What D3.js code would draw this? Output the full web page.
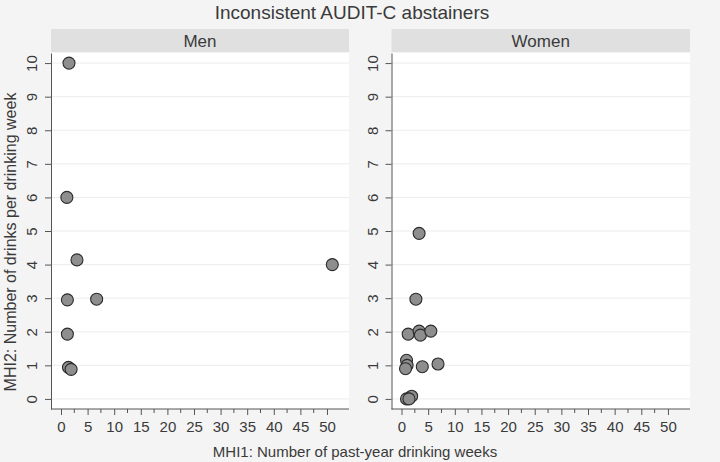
<!DOCTYPE html>
<html><head><meta charset="utf-8">
<script src="https://cdn.jsdelivr.net/npm/d3@7"></script>
<style>
html,body{margin:0;padding:0;background:#f4f4f4;}
svg{display:block;font-family:"Liberation Sans",Arial,sans-serif;}
</style></head>
<body>
<script>
const title = "Inconsistent AUDIT-C abstainers";
const panels = ["Men", "Women"];
const menX = [1.5, 1.1, 3.0, 1.2, 6.7, 1.2, 1.4, 1.9, 51];
const menY = [10, 6, 4.14, 2.95, 2.97, 1.93, 0.94, 0.88, 4.0];
const womenX = [3.3, 2.7, 1.25, 3.3, 3.55, 5.5, 0.94, 1.05, 0.75, 3.9, 6.85, 1.9, 0.94, 1.4];
const womenY = [4.93, 2.97, 1.93, 2.02, 1.9, 2.02, 1.15, 1.0, 0.9, 0.96, 1.04, 0.08, 0.0, 0.0];
const xTicks = [0, 5, 10, 15, 20, 25, 30, 35, 40, 45, 50];
const xMinorTicks = [2.5, 7.5, 12.5, 17.5, 22.5, 27.5, 32.5, 37.5, 42.5, 47.5];
const yTicks = [0, 1, 2, 3, 4, 5, 6, 7, 8, 9, 10];
const xTitle = "MHI1: Number of past-year drinking weeks";
const yTitle = "MHI2: Number of drinks per drinking week";

const W = 720, H = 462;
const svg = d3.select("body").append("svg").attr("width", W).attr("height", H);
svg.append("rect").attr("width", W).attr("height", H).attr("fill", "#f4f4f4");

const textCol = "#3a3a3a";
const plotTop = 53, plotBottom = 409, stripTop = 29;
const panelDefs = [
  {name: panels[0], x0: 51, x1: 349, xs: menX, ys: menY},
  {name: panels[1], x0: 391.5, x1: 690, xs: womenX, ys: womenY}
];
const y = d3.scaleLinear().domain([-0.3, 10.3]).range([plotBottom, plotTop]);

svg.append("text").attr("x", 352).attr("y", 19).attr("text-anchor", "middle")
  .attr("font-size", 19).attr("fill", textCol).text(title);

panelDefs.forEach(p => {
  const x = d3.scaleLinear().domain([-1.88, 54.14]).range([p.x0, p.x1]);
  const g = svg.append("g");
  g.append("rect").attr("x", p.x0).attr("y", stripTop).attr("width", p.x1 - p.x0)
    .attr("height", plotTop - stripTop - 1).attr("fill", "#e0e0e0");
  g.append("text").attr("x", (p.x0 + p.x1) / 2).attr("y", 46.5).attr("text-anchor", "middle")
    .attr("font-size", 17).attr("fill", textCol).text(p.name);
  g.append("rect").attr("x", p.x0).attr("y", plotTop).attr("width", p.x1 - p.x0)
    .attr("height", plotBottom - plotTop).attr("fill", "#ffffff");
  g.selectAll(".grid").data(yTicks).enter().append("line")
    .attr("x1", p.x0).attr("x2", p.x1).attr("y1", d => y(d)).attr("y2", d => y(d))
    .attr("stroke", "#ececec").attr("stroke-width", 1);
  const ya = g.append("g").attr("transform", `translate(${p.x0},0)`)
    .call(d3.axisLeft(y).tickValues(yTicks).tickSize(6).tickPadding(4).tickSizeOuter(0));
  ya.select(".domain").attr("stroke", "#555");
  ya.selectAll(".tick line").attr("stroke", "#555");
  ya.selectAll(".tick text").attr("font-size", 15).attr("fill", textCol)
    .attr("font-family", "Liberation Sans, Arial, sans-serif")
    .attr("text-anchor", "middle").attr("x", null).attr("y", null).attr("dy", "0")
    .attr("transform", "translate(-14,0) rotate(-90)");
  const xa = g.append("g").attr("transform", `translate(0,${plotBottom})`)
    .call(d3.axisBottom(x).tickValues(xTicks).tickSize(6).tickPadding(6).tickSizeOuter(0));
  xa.select(".domain").attr("stroke", "#555").attr("d", `M${p.x0},0H${p.x1}`);
  xa.selectAll(".tick line").attr("stroke", "#555");
  xa.selectAll(".tick text").attr("font-size", 15).attr("fill", textCol)
    .attr("font-family", "Liberation Sans, Arial, sans-serif");
  g.selectAll(".minor").data(xMinorTicks).enter().append("line")
    .attr("x1", d => x(d)).attr("x2", d => x(d)).attr("y1", plotBottom).attr("y2", plotBottom + 4)
    .attr("stroke", "#555");
  g.selectAll(".pt").data(p.xs.map((v, i) => [v, p.ys[i]])).enter().append("circle")
    .attr("cx", d => x(d[0])).attr("cy", d => y(d[1])).attr("r", 6)
    .attr("fill", "#8e8e8e").attr("stroke", "#2b2b2b").attr("stroke-width", 1.1);
});

svg.append("text").attr("x", 355).attr("y", 457).attr("text-anchor", "middle")
  .attr("font-size", 15).attr("fill", textCol).text(xTitle);
svg.append("text").attr("transform", "translate(16,242) rotate(-90)").attr("text-anchor", "middle")
  .attr("font-size", 16).attr("fill", textCol).text(yTitle);
</script>
</body></html>
